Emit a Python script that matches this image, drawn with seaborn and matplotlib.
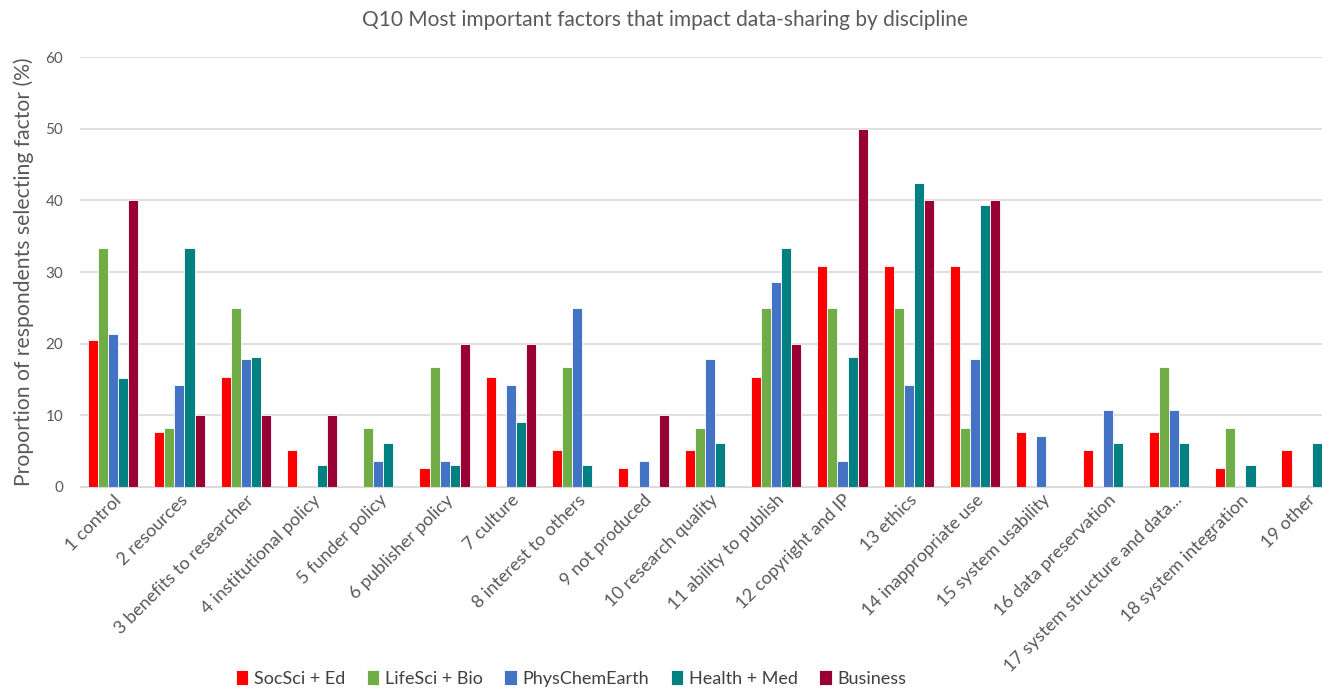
import pandas as pd
import matplotlib
matplotlib.use('Agg')
import matplotlib.pyplot as plt
import seaborn as sns

# Categories (factors) and values per discipline (%)
factors = ['1 control', '2 resources', '3 benefits to researcher', '4 institutional policy',
           '5 funder policy', '6 publisher policy', '7 culture', '8 interest to others',
           '9 not produced', '10 research quality', '11 ability to publish',
           '12 copyright and IP', '13 ethics', '14 inappropriate use', '15 system usability',
           '16 data preservation', '17 system structure and data...', '18 system integration',
           '19 other']
disciplines = ['SocSci + Ed', 'LifeSci + Bio', 'PhysChemEarth', 'Health + Med', 'Business']

socsci = [20.5, 7.7, 15.4, 5.1, 0, 2.6, 15.4, 5.1, 2.6, 5.1, 15.4, 30.8, 30.8, 30.8, 7.7, 5.1, 7.7, 2.6, 5.1]
lifesci = [33.3, 8.3, 25.0, 0, 8.3, 16.7, 0, 16.7, 0, 8.3, 25.0, 25.0, 25.0, 8.3, 0, 0, 16.7, 8.3, 0]
physchem = [21.4, 14.3, 17.9, 0, 3.6, 3.6, 14.3, 25.0, 3.6, 17.9, 28.6, 3.6, 14.3, 17.9, 7.1, 10.7, 10.7, 0, 0]
health = [15.2, 33.3, 18.2, 3.0, 6.1, 3.0, 9.1, 3.0, 0, 6.1, 33.3, 18.2, 42.4, 39.4, 0, 6.1, 6.1, 3.0, 6.1]
business = [40, 10, 10, 10, 0, 20, 20, 0, 10, 0, 20, 50, 40, 40, 0, 0, 0, 0, 0]

colors = ['#FF0000', '#70AD47', '#4472C4', '#008080', '#990033']

rows = []
for disc, vals in zip(disciplines, [socsci, lifesci, physchem, health, business]):
    for f, v in zip(factors, vals):
        rows.append({'Factor': f, 'Discipline': disc, 'Value': v})
df = pd.DataFrame(rows)

sns.set_style('white')
plt.rcParams['font.family'] = ['Lato', 'DejaVu Sans']

fig = plt.figure(figsize=(13.22, 6.89), dpi=100)
ax = fig.add_axes([0.0605, 0.2932, 0.953, 0.624])

sns.barplot(data=df, x='Factor', y='Value', hue='Discipline', order=factors,
            hue_order=disciplines, palette=colors, saturation=1, width=0.76, gap=0,
            edgecolor='white', linewidth=0.6, ax=ax)

ax.set_ylim(0, 60)
ax.set_yticks(range(0, 61, 10))
ax.yaxis.grid(True, color='#D9D9D9', linewidth=1.2)
ax.set_axisbelow(True)
for s in ['top', 'right', 'left']:
    ax.spines[s].set_visible(False)
ax.spines['bottom'].set_color('#D9D9D9')
ax.tick_params(axis='both', length=0, colors='#595959', labelsize=11)
ax.tick_params(axis='y', pad=12)
ax.set_xticks(range(len(factors)))
ax.set_xticklabels(factors, rotation=45, ha='right', rotation_mode='anchor', fontsize=13)
ax.set_xlabel('')
ax.set_ylabel('Proportion of respondents selecting factor (%)', fontsize=15.2, color='#595959', labelpad=8)

fig.suptitle('Q10 Most important factors that impact data-sharing by discipline',
             x=0.503, y=0.985, fontsize=15, color='#595959')

ax.legend_.remove()
handles, labels = ax.get_legend_handles_labels()
fig.legend(handles, labels, loc='lower center', bbox_to_anchor=(0.432, -0.02), ncol=5,
           frameon=False, fontsize=13, handlelength=0.7, handleheight=0.9,
           handletextpad=0.3, columnspacing=1.2, labelcolor='#404040')

fig.savefig('out.png', dpi=100)
